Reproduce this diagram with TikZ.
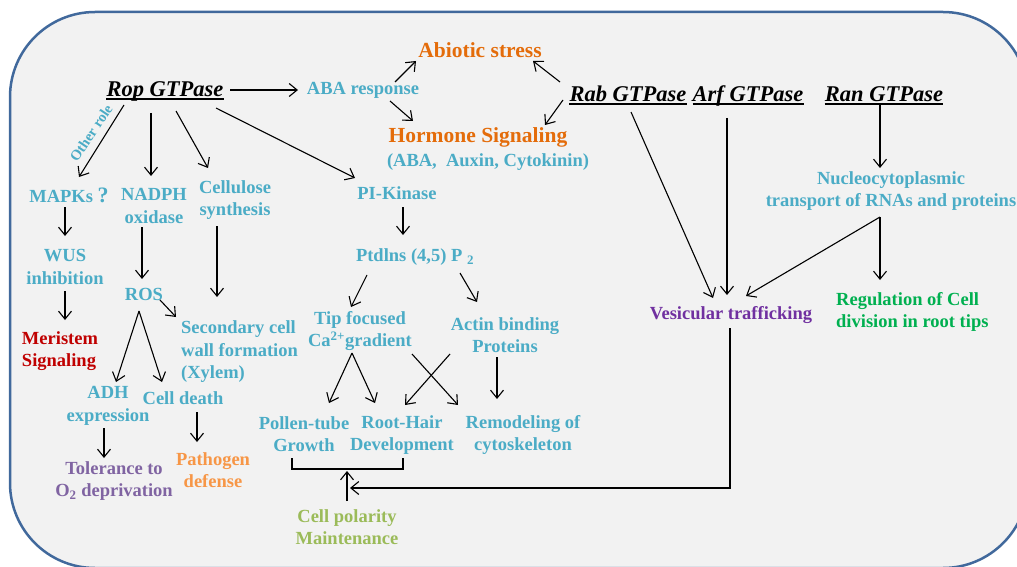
\documentclass[tikz,border=0pt]{standalone}
\usepackage{fontspec}
\setmainfont{Liberation Serif}
\usetikzlibrary{arrows.meta,calc}
\definecolor{cblue}{HTML}{4BACC6}
\definecolor{corange}{HTML}{E46C0A}
\definecolor{cred}{HTML}{C00000}
\definecolor{cpurple}{HTML}{8064A2}
\definecolor{corangeb}{HTML}{F79646}
\definecolor{cgreena}{HTML}{9BBB59}
\definecolor{cgreenb}{HTML}{00B050}
\definecolor{cviolet}{HTML}{7030A0}
\definecolor{boxfill}{HTML}{F2F2F2}
\definecolor{boxblue}{HTML}{41699C}
\begin{document}
\begin{tikzpicture}[x=1pt,y=-1pt,
  lbl/.style={font=\bfseries\fontsize{18.5}{22.5}\selectfont, text=cblue, align=center, inner sep=0pt},
  gtp/.style={font=\bfseries\itshape\fontsize{22.5}{26}\selectfont, inner sep=0pt, anchor=base},
  uline/.style={line width=1.3pt},
  big/.style={font=\bfseries\fontsize{21.5}{26}\selectfont, text=corange, inner sep=0pt},
  arr/.style={line width=1.1pt, -{Straight Barb[length=8pt,width=13pt]}},
  ln/.style={line width=1.1pt}]
\useasboundingbox (0,0) rectangle (1017,567);
\clip (0,0) rectangle (1017,567);
\draw[fill=boxfill, draw=boxblue, line width=2.5pt, rounded corners=85pt] (10,12) rectangle (1028,568);

% GTPases
\node[gtp] (rop) at (165,97) {Rop GTPase};
\node[gtp] (rab) at (628,102) {Rab GTPase};
\node[gtp] (arf) at (748,102) {Arf GTPase};
\node[gtp] (ran) at (884,102) {Ran GTPase};
\foreach \g in {rop,rab,arf,ran}
  \draw[uline] ($(\g.base west)+(0,2)$) -- ($(\g.base east)+(0,2)$);

% top middle
\node[lbl] (aba) at (363,90) {ABA response};
\node[big] (abiotic) at (480,50) {Abiotic stress};
\node[big] (hormone) at (478,137) {Hormone Signaling};
\node[lbl] (hormsub) at (488,162) {(ABA,\ \ Auxin, Cytokinin)};

% left column
\node[lbl] (mapk) at (69,195) {MAPKs {\fontsize{22}{22}\selectfont ?}};
\node[lbl] (nadph) at (154,206) {NADPH\\oxidase};
\node[lbl] (cellulose) at (235,200) {Cellulose\\synthesis};
\node[lbl, font=\bfseries\fontsize{14.5}{16}\selectfont, rotate=56] (other) at (91,133) {Other role};
\node[lbl] (wus) at (65,267) {WUS\\inhibition};
\node[lbl, text=cred, align=left] (meristem) at (60,351) {Meristem\\Signaling};
\node[lbl] (ros) at (144,294) {ROS};
\node[lbl, align=left, anchor=west] (secondary) at (181,352) {Secondary cell\\wall formation\\(Xylem)};
\node[lbl] (adh) at (108,406) {ADH\\expression};
\node[lbl] (celldeath) at (183,398) {Cell death};
\node[lbl, text=cpurple] (tolerance) at (114,481) {Tolerance to\\O\textsubscript{2} deprivation};
\node[lbl, text=corangeb] (pathogen) at (213,470) {Pathogen\\defense};

% middle column
\node[lbl] (pik) at (397,193) {PI-Kinase};
\node[lbl] (ptd) at (415,257) {Ptdlns (4,5) P \textsubscript{2}};
\node[lbl] (tip) at (360,331) {Tip focused\\Ca\textsuperscript{2+}gradient};
\node[lbl] (actin) at (505,335) {Actin binding\\Proteins};
\node[lbl] (pollen) at (304,434) {Pollen-tube\\Growth};
\node[lbl] (root) at (402,435) {Root-Hair\\Development};
\node[lbl] (remodel) at (523,435) {Remodeling of\\cytoskeleton};
\node[lbl, text=cgreena] (polarity) at (347,527) {Cell polarity\\Maintenance};
\coordinate (brk) at (347,471);

% right column
\node[lbl, text=cviolet] (ves) at (731,315) {Vesicular trafficking};
\node[lbl] (nuc) at (891,191) {Nucleocytoplasmic\\transport of RNAs and proteins};
\node[lbl, text=cgreenb, align=left, anchor=west] (reg) at (836,312) {Regulation of Cell\\division in root tips};

% connectors from Rop
\draw[arr] ($(rop.base)+(65,-7)$) -- ($(aba)+(-65,0)$);
\draw[arr] ($(rop.base)+(-41,8)$) -- ($(mapk)+(10,-18)$);
\draw[arr] ($(rop.base)+(-14,16)$) -- ($(nadph)+(-3,-30)$);
\draw[arr] ($(rop.base)+(11,14)$) -- ($(cellulose)+(-27,-32)$);
\draw[arr] ($(rop.base)+(51,11)$) -- ($(pik)+(-42,-15)$);
% ABA response / Rab
\draw[arr] ($(aba)+(32,-8)$) -- ($(abiotic)+(-64,11)$);
\draw[arr] ($(aba)+(27,11)$) -- ($(hormone)+(-65,-16)$);
\draw[arr] ($(rab.base)+(-68,-20)$) -- ($(abiotic)+(53,11)$);
\draw[arr] ($(rab.base)+(-65,-2)$) -- ($(hormone)+(67,-12)$);
\draw[arr] ($(rab.base)+(3,10)$) -- ($(ves)+(-18,-17)$);
\draw[arr] ($(arf.base)+(-21,16)$) -- ($(ves)+(-4,-20)$);
\draw[arr] ($(ran.base)+(-4,3)$) -- ($(nuc)+(-11,-23)$);
\draw[arr] ($(nuc)+(-11,26)$) -- ($(ves)+(15,-19)$);
\draw[arr] ($(nuc)+(-11,26)$) -- ($(reg.west)+(44,-32)$);
% left chains
\draw[arr] ($(mapk)+(-4,12)$) -- ($(wus)+(0,-31)$);
\draw[arr] ($(wus)+(0,24)$) -- ($(meristem)+(5,-31)$);
\draw[arr] ($(nadph)+(-12,21)$) -- ($(ros)+(-2,-15)$);
\draw[arr] ($(cellulose)+(-18,26)$) -- ($(secondary.west)+(36,-55)$);
\draw[arr] ($(ros)+(16,6)$) -- ($(secondary.west)+(-5,-35)$);
\draw[arr] ($(ros)+(-5,17)$) -- ($(adh)+(8,-24)$);
\draw[arr] ($(ros)+(-5,17)$) -- ($(celldeath)+(-21,-16)$);
\draw[arr] ($(adh)+(-4,22)$) -- ($(tolerance)+(-10,-23)$);
\draw[arr] ($(celldeath)+(14,14)$) -- ($(pathogen)+(-16,-28)$);
% middle chains
\draw[arr] ($(pik)+(6,14)$) -- ($(ptd)+(-12,-22)$);
\draw[arr] ($(ptd)+(-48,18)$) -- ($(tip)+(-9,-24)$);
\draw[arr] ($(ptd)+(45,16)$) -- ($(actin)+(-28,-33)$);
\draw[arr] ($(tip)+(-8,22)$) -- ($(pollen)+(25,-31)$);
\draw[arr] ($(tip)+(-8,22)$) -- ($(root)+(-27,-32)$);
\draw[arr] ($(tip)+(52,23)$) -- ($(remodel)+(-65,-30)$);
\draw[arr] ($(actin)+(-55,19)$) -- ($(root)+(3,-30)$);
\draw[arr] ($(actin)+(-8,22)$) -- ($(remodel)+(-26,-36)$);
% bracket and polarity
\draw[ln] ($(pollen)+(-12,24)$) -- ++(0,11) -| ($(root)+(1,23)$);
\draw[arr] ($(polarity)+(0,-26)$) -- (brk);
\draw[arr] ($(ves)+(-1,13)$) |- ($(polarity)+(3,-39)$);
\end{tikzpicture}
\end{document}
